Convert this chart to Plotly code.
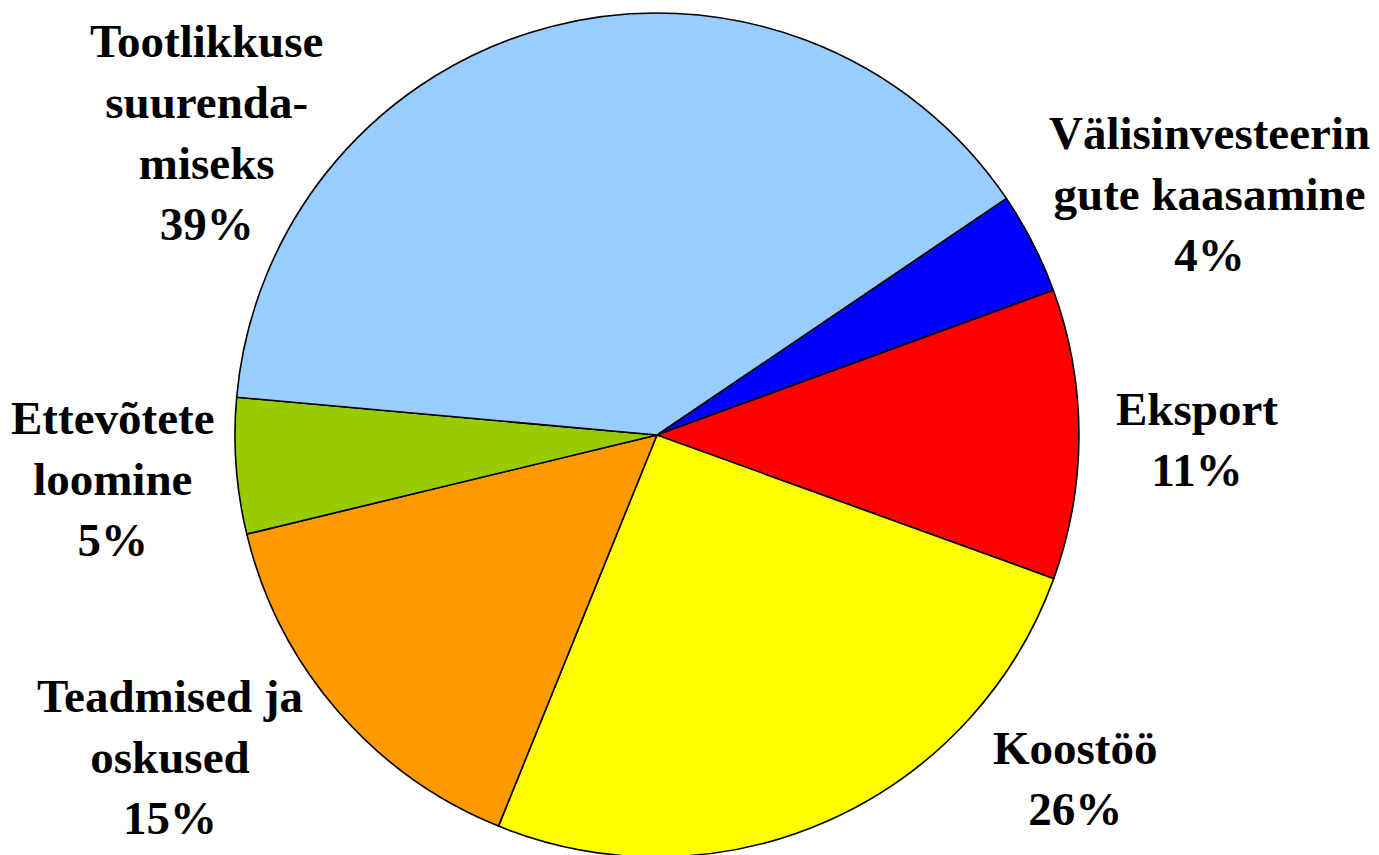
import plotly.graph_objects as go

labels = ["Välisinvesteerin<br>gute kaasamine", "Eksport", "Koostöö",
          "Teadmised ja<br>oskused", "Ettevõtete<br>loomine",
          "Tootlikkuse<br>suurenda-<br>miseks"]
values = [3.9, 11.1, 25.6, 15.1, 5.2, 39.1]
colors = ["#0000FF", "#FF0000", "#FFFF00", "#FF9900", "#99CC00", "#99CCFF"]

W, H = 1379, 855
OFF = 8  # page body margin in the browser
# label centres in screen pixels (layout only)
label_px = [(1209, 194), (1197, 439), (1075, 778), (170, 757), (113, 479), (206, 133)]

fig = go.Figure(go.Pie(
    labels=labels, values=values, sort=False, direction="clockwise",
    rotation=55.9, textinfo="none", hoverinfo="label+percent",
    marker=dict(colors=colors, line=dict(color="black", width=1.6)),
    domain=dict(x=[0.12, 0.8212], y=[0.00702, 0.99415]),
    showlegend=False,
))

total = sum(values)
annotations = []
for lab, v, (px, py) in zip(labels, values, label_px):
    annotations.append(dict(
        x=(px - OFF) / W, y=1 - (py - OFF) / H, xref="paper", yref="paper",
        text=f"<b>{lab}<br>{round(100 * v / total)}%</b>",
        showarrow=False, xanchor="center", yanchor="middle", align="center",
        font=dict(family="Liberation Serif", size=47, color="black"),
    ))

fig.update_layout(
    width=W, height=H, margin=dict(l=0, r=0, t=0, b=0),
    paper_bgcolor="white", plot_bgcolor="white",
    annotations=annotations,
)
fig.write_html("out.html")
